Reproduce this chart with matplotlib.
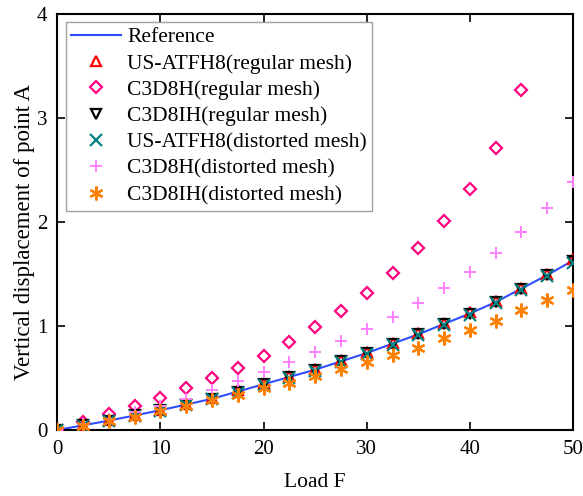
import matplotlib.pyplot as plt
import numpy as np

plt.rcParams['font.family'] = ['Liberation Serif', 'DejaVu Serif']
plt.rcParams['mathtext.fontset'] = 'stix'

load = [0, 2.5, 5, 7.5, 10, 12.5, 15, 17.5, 20, 22.5, 25, 27.5, 30,
        32.5, 35, 37.5, 40, 42.5, 45, 47.5, 50]

reference = [0, 0.045, 0.09, 0.14, 0.19, 0.245, 0.30, 0.37, 0.44, 0.51, 0.58,
             0.66, 0.74, 0.83, 0.92, 1.02, 1.12, 1.23, 1.36, 1.49, 1.63]

atfh8_regular = [0, 0.05, 0.095, 0.145, 0.195, 0.25, 0.31, 0.38, 0.45, 0.52, 0.59,
                 0.67, 0.75, 0.84, 0.93, 1.03, 1.13, 1.24, 1.37, 1.50, 1.64]

c3d8h_regular_x = [0, 2.5, 5, 7.5, 10, 12.5, 15, 17.5, 20, 22.5, 25, 27.5, 30,
                   32.5, 35, 37.5, 40, 42.5, 45]
c3d8h_regular = [0, 0.075, 0.15, 0.23, 0.31, 0.40, 0.50, 0.60, 0.71, 0.85, 0.99,
                 1.14, 1.32, 1.51, 1.75, 2.01, 2.32, 2.71, 3.27]

c3d8ih_regular = [0, 0.045, 0.09, 0.14, 0.19, 0.245, 0.30, 0.37, 0.44, 0.51, 0.58,
                  0.66, 0.74, 0.83, 0.92, 1.02, 1.12, 1.23, 1.36, 1.49, 1.62]

atfh8_distorted = [0, 0.04, 0.085, 0.135, 0.185, 0.24, 0.295, 0.36, 0.43, 0.50, 0.57,
                   0.65, 0.73, 0.82, 0.91, 1.01, 1.11, 1.22, 1.35, 1.48, 1.61]

c3d8h_distorted = [0, 0.055, 0.11, 0.17, 0.23, 0.30, 0.38, 0.47, 0.56, 0.65, 0.75,
                   0.86, 0.97, 1.09, 1.22, 1.37, 1.52, 1.70, 1.90, 2.13, 2.38]

c3d8ih_distorted = [0, 0.04, 0.085, 0.13, 0.18, 0.23, 0.29, 0.34, 0.40, 0.45, 0.52,
                    0.59, 0.65, 0.72, 0.79, 0.88, 0.96, 1.05, 1.15, 1.25, 1.35]

fig = plt.figure(figsize=(5.83, 4.96), dpi=100)
ax = fig.add_axes([0.098, 0.133, 0.885, 0.839])

ms = 7
ax.plot(load, reference, color='#2f4fff', lw=1.5, label='Reference', zorder=2)
ax.plot(load, atfh8_regular, ls='none', marker='^', ms=ms, mfc='none', mec='#ff0000',
        mew=1.6, label='US-ATFH8(regular mesh)', zorder=3)
ax.plot(c3d8h_regular_x, c3d8h_regular, ls='none', marker='D', ms=6.5, mfc='none',
        mec='#ff0080', mew=1.6, label='C3D8H(regular mesh)', zorder=3)
ax.plot(load, c3d8ih_regular, ls='none', marker='v', ms=ms, mfc='none', mec='#000000',
        mew=1.6, label='C3D8IH(regular mesh)', zorder=3)
ax.plot(load, atfh8_distorted, ls='none', marker='x', ms=ms + 1, mec='#008080',
        mew=1.6, label='US-ATFH8(distorted mesh)', zorder=3)
ax.plot(load, c3d8h_distorted, ls='none', marker='+', ms=ms + 2, mec='#ff80ff',
        mew=1.4, label='C3D8H(distorted mesh)', zorder=3)
ax.plot(load, c3d8ih_distorted, ls='none', marker=(6, 2, 0), ms=ms + 3, mec='#ff8000',
        mew=1.6, label='C3D8IH(distorted mesh)', zorder=3)

ax.set_xlim(0, 50)
ax.set_ylim(0, 4)
ax.set_xticks([0, 10, 20, 30, 40, 50])
ax.set_yticks([0, 1, 2, 3, 4])
ax.tick_params(direction='in', length=6, width=1.2, labelsize=15,
               top=True, right=True, pad=7)
for s in ax.spines.values():
    s.set_linewidth(1.5)

ax.set_xlabel('Load F', fontsize=15.5, labelpad=10)
ax.set_ylabel('Vertical displacement of point A', fontsize=16.5)
ax.yaxis.set_label_coords(-0.043, 0.476)

leg = ax.legend(loc='upper left', bbox_to_anchor=(0.017, 0.981), fontsize=15.5,
                fancybox=False, edgecolor='#a0a0a0', framealpha=1,
                handlelength=2.3, handletextpad=0.3, labelspacing=0.29,
                borderpad=0.25, borderaxespad=0)
leg.get_frame().set_linewidth(1.0)

fig.savefig('out.png', dpi=100)
